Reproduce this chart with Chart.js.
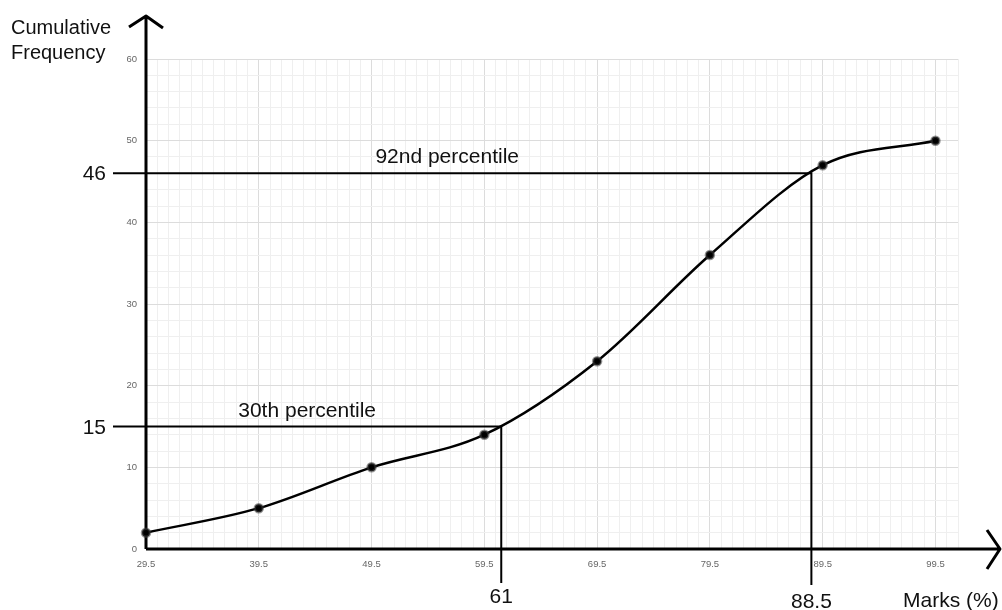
<!DOCTYPE html>
<html>
<head>
<meta charset="utf-8">
<script src="https://cdn.jsdelivr.net/npm/chart.js@4.4.1/dist/chart.umd.min.js"></script>
<style>
  html, body { margin: 0; padding: 0; background: #fff; }
  canvas { display: block; }
</style>
</head>
<body>
<canvas id="ogive" width="1002" height="610"></canvas>
<script>
// upper class boundaries and cumulative frequencies
const marks = [29.5, 39.5, 49.5, 59.5, 69.5, 79.5, 89.5, 99.5];
const cumFreq = [2, 5, 10, 14, 23, 36, 47, 50];

// axis ranges / ticks
const xMin = 29.5, xMax = 101.5, xMinorStep = 1, xMajorStep = 10;
const yMin = 0, yMax = 60, yMinorStep = 2, yMajorStep = 10;

// percentile read-offs
const pctLabels = ['30th percentile', '92nd percentile'];
const pctY = [15, 46];
const pctX = [61, 88.5];
const pctYText = ['15', '46'];
const pctXText = ['61', '88.5'];

const xTitle = 'Marks (%)';
const yTitle = ['Cumulative', 'Frequency'];

const BIG_FONT = '21px "Liberation Sans", Arial, sans-serif';
const TICK_FONT = { family: '"Liberation Sans", Arial, sans-serif', size: 9.5 };

function isMajor(v, start, step) {
    const r = Math.abs((v - start) / step);
    return Math.abs(r - Math.round(r)) < 1e-6;
}

// gridlines every unit (x) and every 2 (y), labels only every 10
function buildTicks(from, to, step) {
    const out = [];
    for (let v = from; v <= to + 1e-9; v += step) out.push({ value: +v.toFixed(2) });
    return out;
}

const decor = {
    id: 'decor',
    beforeDatasetsDraw(chart) {
        const { ctx, chartArea: a, scales: { x, y } } = chart;
        ctx.save();
        ctx.strokeStyle = '#000';
        ctx.lineCap = 'butt';

        // percentile lines
        ctx.lineWidth = 2;
        pctY.forEach((v, i) => {
            const py = y.getPixelForValue(v);
            const px = x.getPixelForValue(pctX[i]);
            ctx.beginPath();
            ctx.moveTo(a.left - 33, py);
            ctx.lineTo(px, py);
            ctx.lineTo(px, a.bottom + 34 + i * 2);
            ctx.stroke();
        });

        // axes with open arrow heads
        ctx.lineWidth = 3;
        ctx.lineJoin = 'round';
        ctx.beginPath();
        ctx.moveTo(a.left, a.bottom);
        ctx.lineTo(a.left, 16);
        ctx.moveTo(a.left - 17, 27);
        ctx.lineTo(a.left, 16);
        ctx.lineTo(a.left + 17, 28);
        ctx.stroke();

        ctx.beginPath();
        ctx.moveTo(a.left, a.bottom);
        ctx.lineTo(1000, a.bottom);
        ctx.moveTo(987, a.bottom - 19);
        ctx.lineTo(1000, a.bottom);
        ctx.lineTo(987, a.bottom + 20);
        ctx.stroke();
        ctx.restore();
    },
    afterDraw(chart) {
        const { ctx, chartArea: a, scales: { x, y } } = chart;
        ctx.save();
        ctx.fillStyle = '#111';
        ctx.font = BIG_FONT;
        ctx.textBaseline = 'alphabetic';

        const labelShift = [0, -15];
        pctY.forEach((v, i) => {
            const py = y.getPixelForValue(v);
            const px = x.getPixelForValue(pctX[i]);
            // y read-off value
            ctx.textAlign = 'right';
            ctx.fillText(pctYText[i], a.left - 40, py + 7);
            // x read-off value
            ctx.textAlign = 'center';
            ctx.fillText(pctXText[i], px, a.bottom + 54 + i * 5);
            // label above the line
            ctx.fillText(pctLabels[i], (a.left - 33 + px) / 2 + labelShift[i], py - 10);
        });

        ctx.textAlign = 'left';
        ctx.fillText(xTitle, 903, 607);
        ctx.font = '20px "Liberation Sans", Arial, sans-serif';
        ctx.fillText(yTitle[0], 11, 34);
        ctx.fillText(yTitle[1], 11, 59);
        ctx.restore();
    }
};

new Chart(document.getElementById('ogive'), {
    type: 'line',
    data: {
        datasets: [{
            data: marks.map((m, i) => ({ x: m, y: cumFreq[i] })),
            borderColor: '#000',
            borderWidth: 2.5,
            cubicInterpolationMode: 'monotone',
            pointRadius: 4,
            pointBorderWidth: 2.5,
            pointBackgroundColor: '#000',
            pointBorderColor: 'rgba(60,60,60,0.55)',
            fill: false,
            clip: false
        }]
    },
    options: {
        responsive: false,
        animation: false,
        events: [],
        layout: { padding: { top: 59, right: 44, left: 0, bottom: 0 } },
        plugins: { legend: { display: false }, tooltip: { enabled: false } },
        scales: {
            x: {
                type: 'linear',
                min: xMin,
                max: xMax,
                afterBuildTicks: s => { s.ticks = buildTicks(xMin, xMax, xMinorStep); },
                afterFit: s => { s.height = 61; },
                border: { display: false },
                grid: {
                    drawTicks: false,
                    lineWidth: 1,
                    color: c => (c.tick && isMajor(c.tick.value, xMin, xMajorStep)) ? '#dcdcdc' : '#efefef'
                },
                ticks: {
                    autoSkip: false,
                    maxRotation: 0,
                    padding: 10,
                    color: '#666',
                    font: TICK_FONT,
                    callback: v => (isMajor(v, xMin, xMajorStep) && v < 100.5) ? v.toFixed(1) : ''
                }
            },
            y: {
                type: 'linear',
                min: yMin,
                max: yMax,
                afterBuildTicks: s => { s.ticks = buildTicks(yMin, yMax, yMinorStep); },
                afterFit: s => { s.width = 146; },
                border: { display: false },
                grid: {
                    drawTicks: false,
                    lineWidth: 1,
                    color: c => (c.tick && isMajor(c.tick.value, yMin, yMajorStep)) ? '#dcdcdc' : '#efefef'
                },
                ticks: {
                    autoSkip: false,
                    padding: 9,
                    color: '#666',
                    font: TICK_FONT,
                    callback: v => isMajor(v, yMin, yMajorStep) ? String(v) : ''
                }
            }
        }
    },
    plugins: [decor]
});
</script>
</body>
</html>
